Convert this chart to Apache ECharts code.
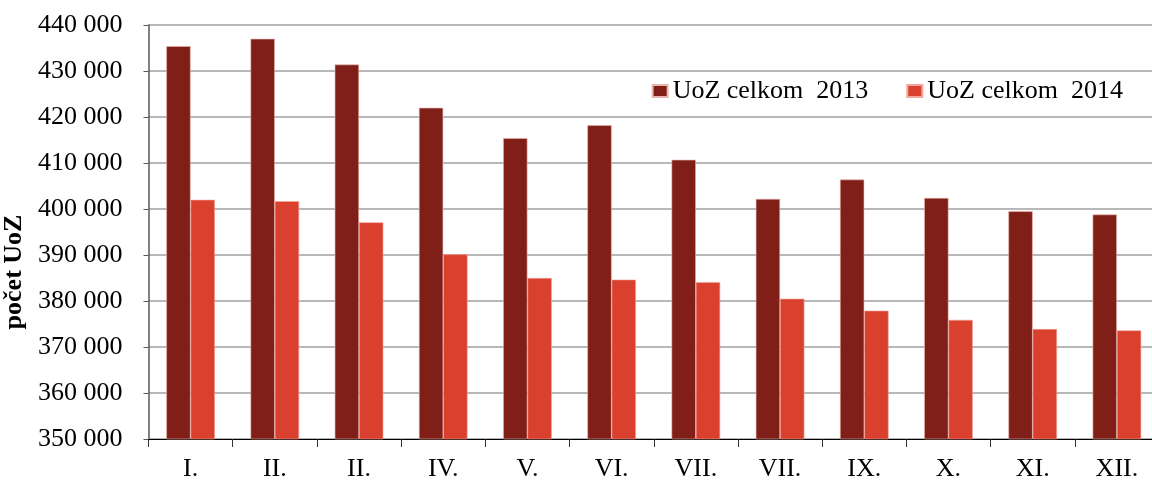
<!DOCTYPE html>
<html>
<head>
<meta charset="utf-8">
<script src="https://cdn.jsdelivr.net/npm/echarts@6/dist/echarts.min.js"></script>
<style>
  html, body { margin: 0; padding: 0; background: #fff; overflow: hidden; }
  #chart { width: 1152px; height: 480px; }
</style>
</head>
<body>
<div id="chart"></div>
<script>
// mesiace (popisy ponechané ako v origináli)
const months = ['I.', 'II.', 'II.', 'IV.', 'V.', 'VI.', 'VII.', 'VII.', 'IX.', 'X.', 'XI.', 'XII.'];
const uoz2013 = [435400, 437000, 431400, 422000, 415400, 418200, 410700, 402200, 406400, 402400, 399500, 398800];
const uoz2014 = [402000, 401700, 397100, 390150, 385000, 384650, 384100, 380500, 377900, 375900, 373900, 373600];
const seriesNames = ['UoZ celkom  2013', 'UoZ celkom  2014'];

const font = 'Liberation Serif, Times New Roman, serif';
const chart = echarts.init(document.getElementById('chart'));

chart.setOption({
    animation: false,
    textStyle: { fontFamily: font, color: '#000' },
    // graf v origináli presahuje pravý okraj obrázka
    grid: { left: 148.5, right: -7, top: 25, bottom: 41, outerBoundsMode: 'none', containLabel: false },
    legend: {
        top: 73,
        right: 24,
        itemWidth: 15,
        itemHeight: 12,
        itemGap: 38,
        icon: 'rect',
        textStyle: { fontFamily: font, fontSize: 26, color: '#000' },
        data: seriesNames
    },
    xAxis: {
        type: 'category',
        data: months,
        axisLine: { lineStyle: { color: '#000', width: 1.2 } },
        axisTick: { show: true, length: 8, lineStyle: { color: '#333' } },
        axisLabel: { fontFamily: font, fontSize: 26, color: '#000', margin: 17 }
    },
    yAxis: {
        type: 'value',
        min: 350000,
        max: 440000,
        interval: 10000,
        name: 'počet UoZ',
        nameLocation: 'middle',
        nameGap: 104,
        nameTextStyle: {
            fontFamily: font, fontSize: 26, fontWeight: 'bold', color: '#000',
            padding: [0, 80, 0, 0]
        },
        axisLine: { show: true, lineStyle: { color: '#595959', width: 1.5 } },
        axisTick: { show: true, length: 5, lineStyle: { color: '#595959' } },
        axisLabel: {
            fontFamily: font, fontSize: 26, color: '#000', margin: 26,
            formatter: v => String(v).replace(/\B(?=(\d{3})+(?!\d))/g, ' ')
        },
        splitLine: { lineStyle: { color: '#a0a0a0', width: 1.5 } }
    },
    series: [
        {
            name: seriesNames[0],
            type: 'bar',
            data: uoz2013,
            barWidth: 24.3,
            barGap: '0%',
            itemStyle: { color: '#7f1f17', borderColor: '#e8b5b0', borderWidth: 0.6 }
        },
        {
            name: seriesNames[1],
            type: 'bar',
            data: uoz2014,
            barWidth: 24.3,
            barGap: '0%',
            itemStyle: { color: '#d9402d', borderColor: '#f2a59b', borderWidth: 0.6 }
        }
    ]
});
</script>
</body>
</html>
